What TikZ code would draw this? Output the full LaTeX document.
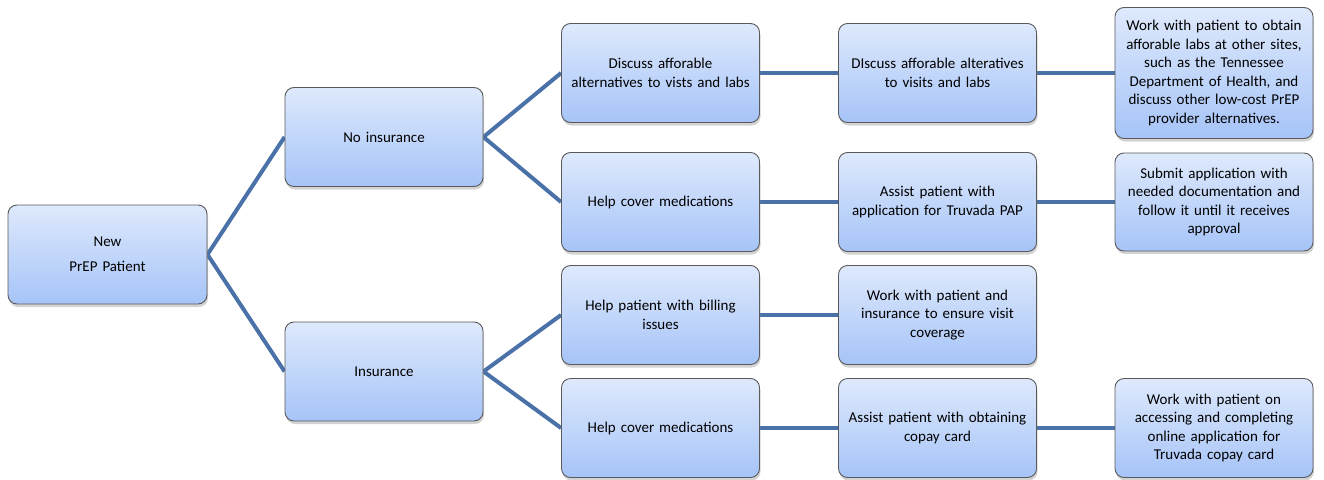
\documentclass[tikz,border=0pt]{standalone}
\usepackage{fontspec}
\setmainfont{Carlito}
\usetikzlibrary{shadows,backgrounds}
\definecolor{edgeblue}{RGB}{74,114,168}
\definecolor{boxtop}{RGB}{222,233,252}
\definecolor{boxbot}{RGB}{166,196,248}
\definecolor{boxline}{RGB}{90,90,90}
\tikzset{
  box/.style={draw=boxline, line width=0.9pt, rounded corners=9pt,
    top color=boxtop, bottom color=boxbot, minimum width=198pt, minimum height=99pt,
    inner sep=2pt, align=center, text width=194pt,
    font=\fontsize{15pt}{18.5pt}\selectfont,
    drop shadow={opacity=0.35, shadow xshift=1pt, shadow yshift=-3pt}},
  conn/.style={draw=edgeblue, line width=4pt}
}
\begin{document}
\begin{tikzpicture}[x=1pt,y=1pt]
\useasboundingbox (0,0) rectangle (1324,-479);
\node[box, minimum width=199pt, font=\fontsize{15pt}{25pt}\selectfont] (new) at (107.5,-254.5) {New\\PrEP Patient};
\node[box] (noins) at (384,-137) {No insurance};
\node[box] (ins) at (384,-371.5) {Insurance};
\node[box, minimum width=197pt] (a1) at (660.5,-73) {Discuss afforable\\alternatives to vists and labs};
\node[box, minimum width=197pt] (a2) at (660.5,-202) {Help cover medications};
\node[box, minimum width=197pt] (a3) at (660.5,-315) {Help patient with billing\\issues};
\node[box, minimum width=197pt] (a4) at (660.5,-428) {Help cover medications};
\node[box, minimum width=197pt] (b1) at (937.5,-73) {DIscuss afforable alteratives\\to visits and labs};
\node[box, minimum width=197pt] (b2) at (937.5,-202) {Assist patient with\\application for Truvada PAP};
\node[box, minimum width=197pt] (b3) at (937.5,-315) {Work with patient and\\insurance to ensure visit\\coverage};
\node[box, minimum width=197pt] (b4) at (937.5,-428) {Assist patient with obtaining\\copay card};
\node[box, minimum width=196pt, minimum height=131pt] (c1) at (1214,-73) {Work with patient to obtain\\afforable labs at other sites,\\such as the Tennessee\\Department of Health, and\\discuss other low-cost PrEP\\provider alternatives.};
\node[box, minimum width=196pt, minimum height=98pt] (c2) at (1214,-202) {Submit application with\\needed documentation and\\follow it until it receives\\approval};
\node[box, minimum width=196pt] (c4) at (1214,-428) {Work with patient on\\accessing and completing\\online application for\\Truvada copay card};
\begin{scope}[on background layer]
\draw[conn] (noins.west) -- (new.east) -- (ins.west);
\draw[conn] (a1.west) -- (noins.east) -- (a2.west);
\draw[conn] (a3.west) -- (ins.east) -- (a4.west);
\draw[conn] (a1.east) -- (b1.west);
\draw[conn] (b1.east) -- (c1.west);
\draw[conn] (a2.east) -- (b2.west);
\draw[conn] (b2.east) -- (c2.west);
\draw[conn] (a3.east) -- (b3.west);
\draw[conn] (a4.east) -- (b4.west);
\draw[conn] (b4.east) -- (c4.west);
\end{scope}
\end{tikzpicture}
\end{document}
